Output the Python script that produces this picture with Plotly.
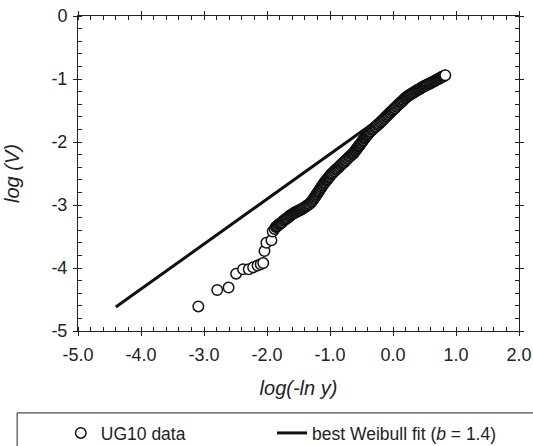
import plotly.graph_objects as go

# ---- data ----
ug10_x = [
    -3.09, -2.79, -2.61, -2.49, -2.38, -2.29, -2.22, -2.15, -2.10, -2.06,
    -2.04, -2.01, -1.93, -1.91, -1.88,
    -1.860, -1.845, -1.830, -1.815, -1.800, -1.785, -1.770, -1.755, -1.740, -1.725,
    -1.710, -1.695, -1.680, -1.665, -1.650, -1.635, -1.620, -1.605, -1.590,
    -1.575, -1.560, -1.545, -1.530, -1.515, -1.500, -1.485, -1.470, -1.455, -1.440,
    -1.425, -1.410, -1.395, -1.380, -1.365, -1.350, -1.335, -1.320, -1.305, -1.290,
    -1.280, -1.270, -1.260, -1.250, -1.240, -1.230, -1.220, -1.210, -1.200, -1.190,
    -1.180, -1.170, -1.160, -1.150, -1.140, -1.130, -1.120, -1.110, -1.100,
    -1.090, -1.080, -1.070, -1.060, -1.050, -1.040, -1.030, -1.020, -1.010, -1.000,
    -0.990, -0.980, -0.970,
    -0.955, -0.940, -0.925, -0.910, -0.895, -0.880, -0.865, -0.850, -0.835, -0.820,
    -0.805, -0.790, -0.775, -0.760, -0.745, -0.730, -0.715, -0.700, -0.685, -0.670,
    -0.655, -0.640,
    -0.630, -0.620, -0.610, -0.600, -0.590, -0.580, -0.570, -0.560, -0.550, -0.540,
    -0.530, -0.520, -0.510, -0.500, -0.490, -0.480, -0.470, -0.460, -0.450, -0.440,
    -0.430, -0.420, -0.410, -0.400, -0.390, -0.380, -0.370,
    -0.355, -0.340, -0.325, -0.310, -0.295, -0.280, -0.265, -0.250, -0.235, -0.220,
    -0.205, -0.190, -0.175, -0.160, -0.145, -0.130, -0.115, -0.100, -0.085, -0.070,
    -0.055, -0.040, -0.025, -0.010,
    0.005, 0.020, 0.035, 0.050, 0.065, 0.080, 0.095, 0.110, 0.125, 0.140,
    0.155, 0.170, 0.185, 0.200, 0.215,
    0.230, 0.245, 0.260, 0.275, 0.290, 0.305, 0.320, 0.335, 0.350, 0.365,
    0.380, 0.395, 0.410, 0.425,
    0.440, 0.455, 0.470, 0.485, 0.500, 0.515, 0.530, 0.545, 0.560, 0.575,
    0.590, 0.605, 0.620, 0.635, 0.650, 0.665, 0.680, 0.695, 0.710, 0.725,
    0.740, 0.755, 0.770, 0.785, 0.800, 0.815, 0.830,
]
ug10_y = [
    -4.61, -4.35, -4.31, -4.09, -4.02, -4.02, -3.99, -3.96, -3.94, -3.92,
    -3.73, -3.60, -3.56, -3.42, -3.38,
    -3.35, -3.34, -3.33, -3.31, -3.30, -3.29, -3.28, -3.27, -3.25, -3.24,
    -3.23, -3.22, -3.21, -3.20, -3.18, -3.17, -3.16, -3.15, -3.14,
    -3.13, -3.12, -3.11, -3.11, -3.10, -3.09, -3.08, -3.08, -3.07, -3.06,
    -3.05, -3.04, -3.03, -3.02, -3.01, -3.00, -2.99, -2.98, -2.96, -2.95,
    -2.93, -2.92, -2.90, -2.89, -2.87, -2.86, -2.84, -2.83, -2.81, -2.80,
    -2.78, -2.77, -2.75, -2.74, -2.72, -2.71, -2.69, -2.68, -2.66,
    -2.65, -2.64, -2.62, -2.61, -2.60, -2.59, -2.57, -2.56, -2.55, -2.54,
    -2.52, -2.51, -2.50,
    -2.49, -2.47, -2.46, -2.44, -2.43, -2.42, -2.40, -2.39, -2.37, -2.36,
    -2.34, -2.33, -2.32, -2.30, -2.29, -2.27, -2.26, -2.24, -2.23, -2.22,
    -2.20, -2.19,
    -2.18, -2.17, -2.15, -2.14, -2.13, -2.11, -2.10, -2.09, -2.07, -2.06,
    -2.05, -2.03, -2.02, -2.01, -1.99, -1.98, -1.97, -1.95, -1.94, -1.93,
    -1.91, -1.90, -1.89, -1.88, -1.86, -1.85, -1.84,
    -1.83, -1.81, -1.80, -1.79, -1.77, -1.76, -1.75, -1.73, -1.72, -1.71,
    -1.69, -1.68, -1.66, -1.65, -1.63, -1.62, -1.60, -1.59, -1.57, -1.56,
    -1.54, -1.53, -1.51, -1.50,
    -1.485, -1.47, -1.46, -1.44, -1.43, -1.41, -1.40, -1.38, -1.37, -1.36,
    -1.34, -1.33, -1.31, -1.30, -1.285,
    -1.275, -1.265, -1.255, -1.245, -1.235, -1.23, -1.22, -1.21, -1.20, -1.19,
    -1.18, -1.17, -1.165, -1.155,
    -1.145, -1.135, -1.13, -1.12, -1.11, -1.105, -1.095, -1.09, -1.08, -1.075,
    -1.07, -1.06, -1.05, -1.045, -1.035, -1.03, -1.02, -1.01, -1.005, -0.995,
    -0.99, -0.98, -0.97, -0.965, -0.955, -0.95, -0.94,
]
fit_x = [-4.40, 0.85]
fit_y = [-4.62, -0.87]

x_tickvals = [-5, -4, -3, -2, -1, 0, 1, 2]
x_ticktext = ["-5.0", "-4.0", "-3.0", "-2.0", "-1.0", "0.0", "1.0", "2.0"]
y_tickvals = [-5, -4, -3, -2, -1, 0]
y_ticktext = ["-5", "-4", "-3", "-2", "-1", "0"]

INK = "#222222"
FONT = "Arial, Liberation Sans, sans-serif"

fig = go.Figure()
fig.add_trace(go.Scatter(
    x=fit_x, y=fit_y, mode="lines", name="best Weibull fit (<i>b</i> = 1.4)",
    line=dict(color="#111111", width=3), legend="legend2",
))
fig.add_trace(go.Scatter(
    x=ug10_x, y=ug10_y, mode="markers", name="UG10 data",
    marker=dict(symbol="circle", size=10.5, color="white",
                line=dict(color="#111111", width=1.5)),
    legend="legend",
))

common = dict(showgrid=False, zeroline=False, showline=True, linecolor=INK,
              linewidth=1, tickcolor=INK, tickwidth=1)

leg_common = dict(orientation="h", xanchor="left", y=-0.324, yanchor="middle",
                  font=dict(size=17.5, color=INK), bgcolor="rgba(0,0,0,0)",
                  borderwidth=0)

fig.update_layout(
    width=533, height=446,
    margin=dict(l=78, r=14, t=16, b=115, autoexpand=False),
    paper_bgcolor="white", plot_bgcolor="white",
    font=dict(family=FONT, size=18, color=INK),
    xaxis=dict(range=[-5, 2], tickvals=x_tickvals, ticktext=x_ticktext,
               ticks="outside", ticklen=4, mirror="ticks", ticklabelstandoff=3,
               minor=dict(dtick=0.2, ticks="inside", ticklen=4, tickcolor=INK),
               title=dict(text="<i>log(-ln y)</i>", font=dict(size=20), standoff=17),
               tickfont=dict(size=18), **common),
    yaxis=dict(range=[-5, 0], tickvals=y_tickvals, ticktext=y_ticktext,
               ticks="outside", ticklen=4, mirror="ticks", ticklabelstandoff=2,
               minor=dict(dtick=0.2, ticks="inside", ticklen=4, tickcolor=INK),
               title=dict(text="<i>log (V)</i>", font=dict(size=20), standoff=26),
               tickfont=dict(size=18), **common),
    xaxis2=dict(overlaying="x", anchor="y", range=[-5, 2], tickvals=x_tickvals,
                ticks="inside", ticklen=4, mirror="ticks", showticklabels=False,
                **common),
    yaxis2=dict(overlaying="y", anchor="x", range=[-5, 0], tickvals=y_tickvals,
                ticks="inside", ticklen=4, mirror="ticks", showticklabels=False,
                **common),
    showlegend=True,
    legend=dict(x=-0.039, **leg_common),
    legend2=dict(x=0.440, **leg_common),
    shapes=[dict(type="rect", xref="paper", yref="paper",
                 x0=-0.138, x1=1.06, y0=-0.45, y1=-0.260,
                 line=dict(color=INK, width=1), fillcolor="rgba(0,0,0,0)")],
)

fig.write_html("out.html")
